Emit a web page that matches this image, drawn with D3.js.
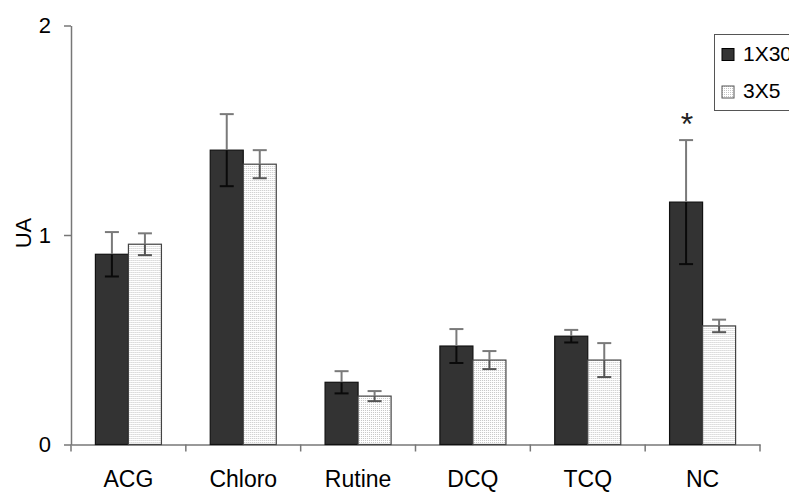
<!DOCTYPE html>
<html>
<head>
<meta charset="utf-8">
<script src="https://cdn.jsdelivr.net/npm/d3@7"></script>
<style>
  body { margin: 0; background: #fff; }
  svg { display: block; font-family: "Liberation Sans", Arial, sans-serif; }
  .axis path, .axis line { stroke: #777; stroke-width: 1.5; }
  .axis text { fill: #000; font-size: 22px; }
  .x-axis text { font-size: 23px; }
</style>
</head>
<body>
<svg id="chart" width="789" height="493"></svg>
<script>
// categories and series
const categories = ["ACG", "Chloro", "Rutine", "DCQ", "TCQ", "NC"];
const seriesNames = ["1X30", "3X5"];
const means1x30 = [0.908, 1.405, 0.297, 0.470, 0.517, 1.157];
const err1x30   = [0.106, 0.172, 0.053, 0.081, 0.030, 0.296];
const means3x5  = [0.956, 1.338, 0.231, 0.403, 0.403, 0.566];
const err3x5    = [0.052, 0.067, 0.024, 0.043, 0.081, 0.030];
const yTicks = [0, 1, 2];
const starred = ["NC"]; // asterisk over the 1X30 bar

const svg = d3.select("#chart");

// grey dotted fill for the 3X5 bars
let defs = svg.append("defs");
let pat = defs.append("pattern")
    .attr("id", "dots")
    .attr("width", 2).attr("height", 2)
    .attr("patternUnits", "userSpaceOnUse");
pat.append("rect").attr("width", 2).attr("height", 2).attr("fill", "#fff");
pat.append("rect").attr("width", 1).attr("height", 1).attr("fill", "#c4c4c4");

let x = d3.scaleBand()
    .domain(categories)
    .range([71, 760])
    .paddingInner(0.425)
    .paddingOuter(0.2125);

let xs = d3.scaleBand()
    .domain(seriesNames)
    .range([0, x.bandwidth()]);

let y = d3.scaleLinear()
    .domain([0, 2])
    .range([444.5, 25.5]);

let rows = categories.map((c, i) => ({
    cat: c,
    vals: [
        { s: "1X30", v: means1x30[i], e: err1x30[i] },
        { s: "3X5", v: means3x5[i], e: err3x5[i] }
    ]
}));

// axes
svg.append("g")
    .attr("class", "axis")
    .attr("transform", "translate(71,0)")
    .call(d3.axisLeft(y).tickValues(yTicks).tickFormat(d3.format("d"))
        .tickSize(7).tickSizeOuter(0).tickPadding(13));

let xAxis = svg.append("g")
    .attr("class", "axis x-axis")
    .attr("transform", `translate(0,${y(0)})`)
    .call(d3.axisBottom(x).tickSize(0).tickSizeOuter(0).tickPadding(26));

// tick marks sit between the categories
let half = x.step() * x.paddingInner() / 2;
let bounds = categories.map(c => x(c) - half).concat([x(categories[categories.length - 1]) + x.bandwidth() + half]);
xAxis.selectAll(".bound")
    .data(bounds)
    .enter().append("line")
    .attr("class", "bound")
    .attr("x1", d => d).attr("x2", d => d)
    .attr("y1", 0).attr("y2", 7);

// bars
let groups = svg.append("g")
    .selectAll("g")
    .data(rows)
    .enter().append("g")
    .attr("transform", d => `translate(${x(d.cat)},0)`);

groups.selectAll("rect")
    .data(d => d.vals)
    .enter().append("rect")
    .attr("x", d => xs(d.s))
    .attr("y", d => y(d.v))
    .attr("width", xs.bandwidth())
    .attr("height", d => y(0) - y(d.v))
    .attr("fill", d => d.s === "1X30" ? "#333" : "url(#dots)")
    .attr("stroke", d => d.s === "1X30" ? "#111" : "#444")
    .attr("stroke-width", 1.2);

// error bars: grey above the bar, darker where they cross it
let errs = groups.selectAll(".err")
    .data(d => d.vals)
    .enter().append("g")
    .attr("class", "err")
    .attr("transform", d => `translate(${xs(d.s) + xs.bandwidth() / 2},0)`)
    .attr("stroke-width", 2);

errs.append("line")
    .attr("y1", d => y(d.v + d.e)).attr("y2", d => y(d.v))
    .attr("stroke", "#7a7a7a");
errs.append("line")
    .attr("x1", -7).attr("x2", 7)
    .attr("y1", d => y(d.v + d.e)).attr("y2", d => y(d.v + d.e))
    .attr("stroke", "#7a7a7a");
errs.append("line")
    .attr("y1", d => y(d.v)).attr("y2", d => y(d.v - d.e))
    .attr("stroke", d => d.s === "1X30" ? "#0a0a0a" : "#555");
errs.append("line")
    .attr("x1", -7).attr("x2", 7)
    .attr("y1", d => y(d.v - d.e)).attr("y2", d => y(d.v - d.e))
    .attr("stroke", d => d.s === "1X30" ? "#0a0a0a" : "#555");

// significance mark
groups.filter(d => starred.includes(d.cat))
    .append("text")
    .attr("x", xs("1X30") + xs.bandwidth() / 2 + 1)
    .attr("y", d => y(d.vals[0].v + d.vals[0].e) - 5)
    .attr("text-anchor", "middle")
    .attr("font-size", 32)
    .attr("fill", "#222")
    .text("*");

// y title
svg.append("text")
    .attr("transform", "translate(31,233) rotate(-90)")
    .attr("text-anchor", "middle")
    .attr("font-size", 22)
    .text("UA");

// legend, runs off the right edge like the original
let legend = svg.append("g").attr("transform", "translate(714,34)");
legend.append("rect")
    .attr("x", 0.5).attr("y", 0.5)
    .attr("width", 100).attr("height", 76)
    .attr("fill", "#fff")
    .attr("stroke", "#555");

let items = legend.selectAll(".item")
    .data(seriesNames)
    .enter().append("g")
    .attr("class", "item")
    .attr("transform", (d, i) => `translate(8,${14.5 + i * 37.5})`);

items.append("rect")
    .attr("width", 12).attr("height", 12)
    .attr("fill", d => d === "1X30" ? "#333" : "url(#dots)")
    .attr("stroke", d => d === "1X30" ? "#000" : "#555");

items.append("text")
    .attr("x", 21).attr("y", 12)
    .attr("font-size", 21)
    .text(d => d);
</script>
</body>
</html>
